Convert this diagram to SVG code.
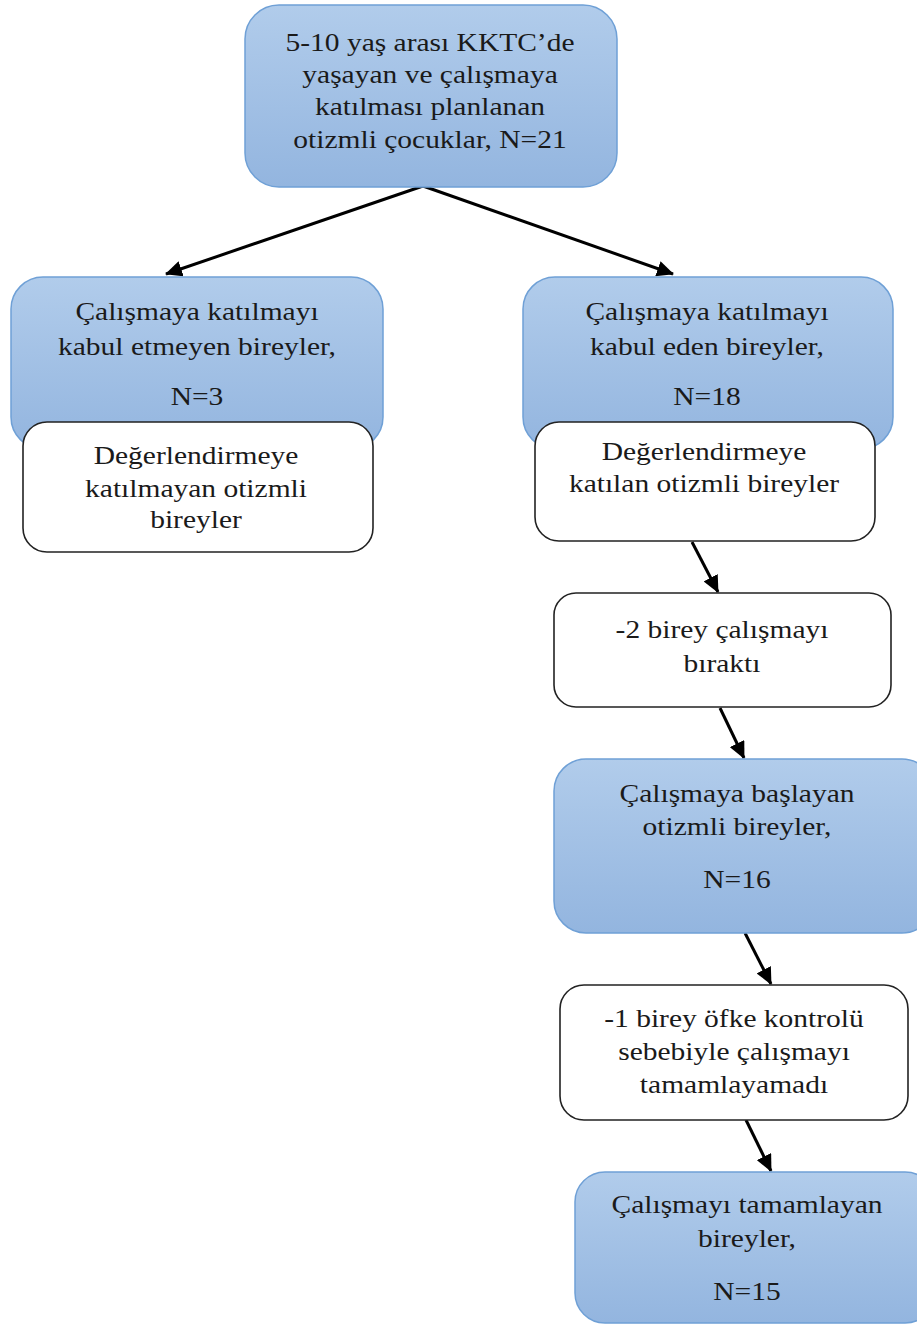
<svg xmlns="http://www.w3.org/2000/svg" width="917" height="1324" viewBox="0 0 917 1324">
<style>
.blue{fill:url(#g);stroke:#6fa0d6;stroke-width:1.5}
.white{fill:#fff;stroke:#222;stroke-width:1.6}
text{font-family:"Liberation Serif","Times New Roman",serif;font-size:25px;fill:#1a1a1a;text-anchor:middle}
.conn{stroke:#000;stroke-width:3;fill:none;marker-end:url(#ah)}
</style>
<defs>
<linearGradient id="g" x1="0" y1="0" x2="0" y2="1">
<stop offset="0" stop-color="#b1cceb"/>
<stop offset="1" stop-color="#93b5df"/>
</linearGradient>
<marker id="ah" markerUnits="userSpaceOnUse" markerWidth="18" markerHeight="16" refX="16" refY="8" orient="auto">
<path d="M0,0 L17,8 L0,16 Z" fill="#000"/>
</marker>
</defs>
<rect width="917" height="1324" fill="#fff"/>
<g id="connectors">
<line class="conn" x1="423" y1="186" x2="166" y2="274"/>
<line class="conn" x1="423" y1="186" x2="673" y2="274"/>
<line class="conn" x1="692" y1="542" x2="718" y2="592"/>
<line class="conn" x1="720" y1="708" x2="744" y2="758"/>
<line class="conn" x1="745" y1="933" x2="771" y2="984"/>
<line class="conn" x1="746" y1="1120" x2="771" y2="1171"/>
</g>
<g id="n-top">
<rect class="blue" x="245" y="5" width="372" height="182" rx="34"/>
<text transform="translate(430 51) scale(1.18 1)">5-10 yaş arası KKTC’de</text>
<text transform="translate(430 83) scale(1.18 1)">yaşayan ve çalışmaya</text>
<text transform="translate(430 115) scale(1.18 1)">katılması planlanan</text>
<text transform="translate(430 148) scale(1.18 1)">otizmli çocuklar, N=21</text>
</g>
<g id="n-reject">
<rect class="blue" x="11" y="277" width="372" height="172" rx="32"/>
<text transform="translate(197 320) scale(1.18 1)">Çalışmaya katılmayı</text>
<text transform="translate(197 355) scale(1.18 1)">kabul etmeyen bireyler,</text>
<text transform="translate(197 405) scale(1.18 1)">N=3</text>
</g>
<g id="n-noeval">
<rect class="white" x="23" y="422" width="350" height="130" rx="24"/>
<text transform="translate(196 464) scale(1.18 1)">Değerlendirmeye</text>
<text transform="translate(196 497) scale(1.18 1)">katılmayan otizmli</text>
<text transform="translate(196 528) scale(1.18 1)">bireyler</text>
</g>
<g id="n-accept">
<rect class="blue" x="523" y="277" width="370" height="172" rx="32"/>
<text transform="translate(707 320) scale(1.18 1)">Çalışmaya katılmayı</text>
<text transform="translate(707 355) scale(1.18 1)">kabul eden bireyler,</text>
<text transform="translate(707 405) scale(1.18 1)">N=18</text>
</g>
<g id="n-eval">
<rect class="white" x="535" y="422" width="340" height="119" rx="24"/>
<text transform="translate(704 460) scale(1.18 1)">Değerlendirmeye</text>
<text transform="translate(704 492) scale(1.18 1)">katılan otizmli bireyler</text>
</g>
<g id="n-left2">
<rect class="white" x="554" y="593" width="337" height="114" rx="22"/>
<text transform="translate(722 638) scale(1.18 1)">-2 birey çalışmayı</text>
<text transform="translate(722 672) scale(1.18 1)">bıraktı</text>
</g>
<g id="n-start">
<rect class="blue" x="554" y="759" width="380" height="174" rx="32"/>
<text transform="translate(737 802) scale(1.18 1)">Çalışmaya başlayan</text>
<text transform="translate(737 835) scale(1.18 1)">otizmli bireyler,</text>
<text transform="translate(737 888) scale(1.18 1)">N=16</text>
</g>
<g id="n-left1">
<rect class="white" x="560" y="985" width="348" height="135" rx="24"/>
<text transform="translate(734 1027) scale(1.18 1)">-1 birey öfke kontrolü</text>
<text transform="translate(734 1060) scale(1.18 1)">sebebiyle çalışmayı</text>
<text transform="translate(734 1093) scale(1.18 1)">tamamlayamadı</text>
</g>
<g id="n-complete">
<rect class="blue" x="575" y="1172" width="360" height="151" rx="30"/>
<text transform="translate(747 1213) scale(1.18 1)">Çalışmayı tamamlayan</text>
<text transform="translate(747 1247) scale(1.18 1)">bireyler,</text>
<text transform="translate(747 1300) scale(1.18 1)">N=15</text>
</g>
</svg>
